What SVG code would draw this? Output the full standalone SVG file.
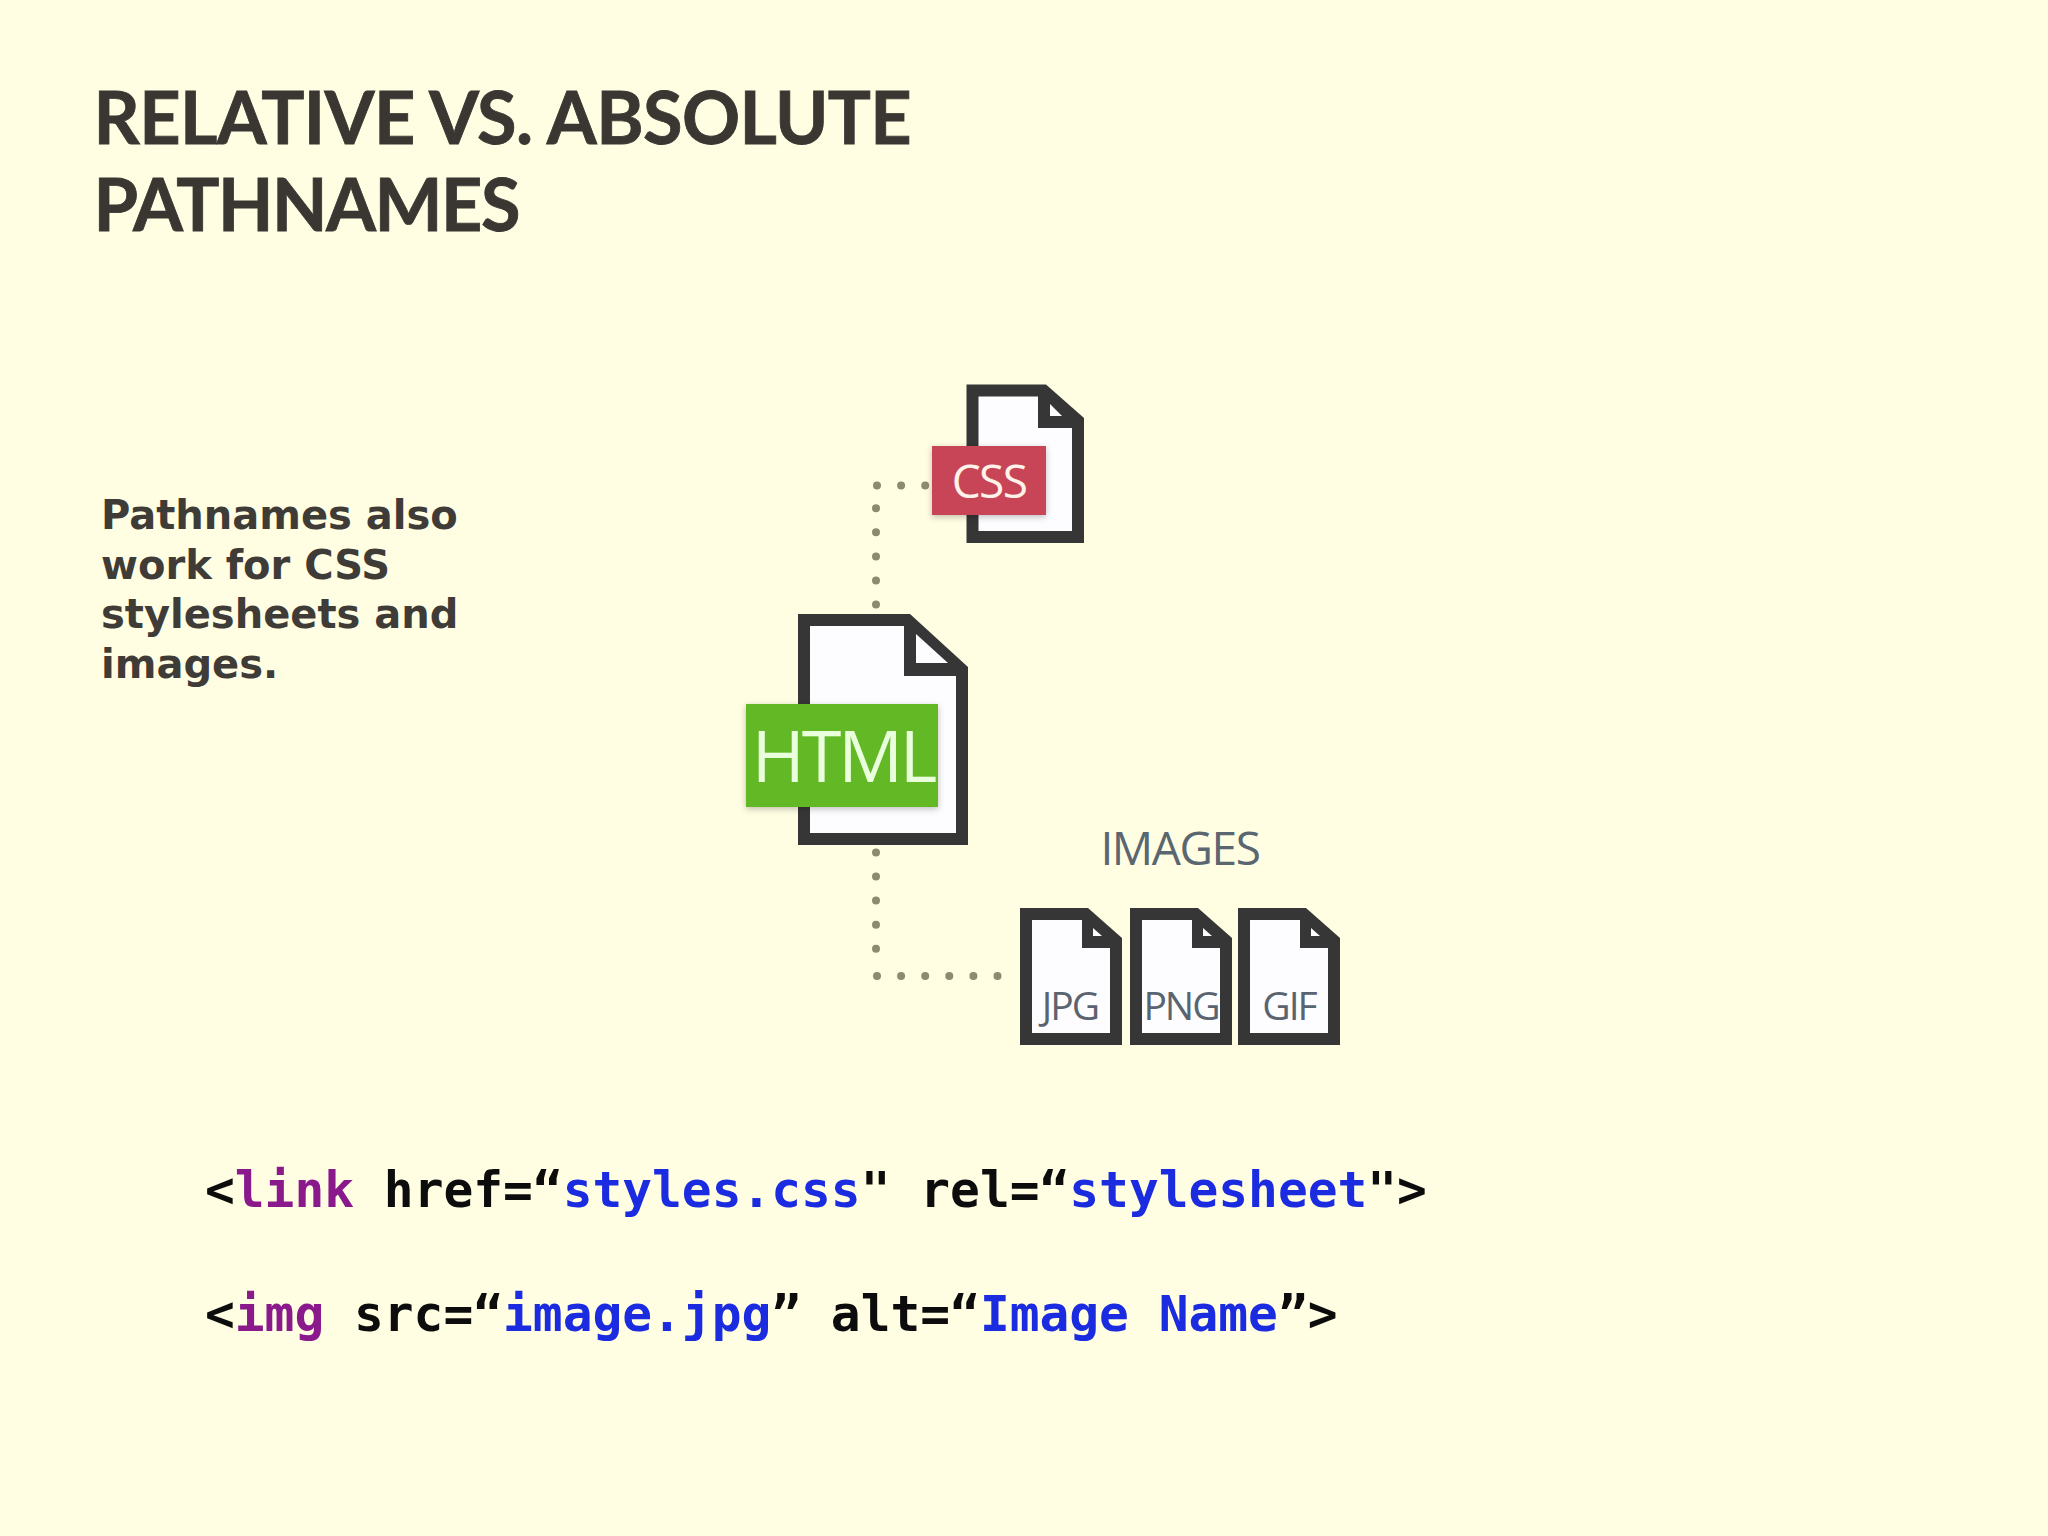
<svg xmlns="http://www.w3.org/2000/svg" width="2048" height="1536" viewBox="0 0 2048 1536">
<style>
.title{font-family:"Lato","Open Sans",sans-serif;font-weight:700;font-size:72px;fill:#3a3733;stroke:#3a3733;stroke-width:0.8px}
.para{font-family:"DejaVu Sans",sans-serif;font-weight:bold;font-size:40px;fill:#3f3c38}
.code{font-family:"DejaVu Sans Mono",monospace;font-weight:bold;font-size:49.5px;fill:#0c0c0c}
.tag{fill:#8a1a8c}.val{fill:#1a2be0}
.edge{fill:none;stroke:#8b8b72;stroke-width:8;stroke-linecap:round;stroke-dasharray:0 24.1}
.frame{fill:#363636}.page{fill:#fdfdff}
.lab{font-family:"Open Sans","Liberation Sans",sans-serif;text-anchor:middle}
.small{font-size:39px;fill:#5a6470;letter-spacing:-2px}
</style>
<defs>
<filter id="sh" x="-10%" y="-10%" width="120%" height="125%"><feDropShadow dx="0" dy="2" stdDeviation="3" flood-color="#000" flood-opacity="0.25"/></filter>
<g id="smalldoc">
<polygon class="frame" points="1020,908 1088,908 1122,938 1122,1045 1020,1045"/>
<polygon class="page" points="1032,920 1082,920 1082,948 1110,948 1110,1033 1032,1033"/>
<polygon class="page" points="1093,928 1102,936 1093,936"/>
</g>
</defs>
<rect width="2048" height="1536" fill="#fffee3"/>
<g id="heading">
<text class="title" x="93.5" y="144" letter-spacing="-0.6">RELATIVE VS. ABSOLUTE</text>
<text class="title" x="93.5" y="231" letter-spacing="-1.5">PATHNAMES</text>
</g>
<g id="description">
<text class="para" x="101" y="529">Pathnames also</text>
<text class="para" x="101" y="578.5">work for CSS</text>
<text class="para" x="101" y="628">stylesheets and</text>
<text class="para" x="101" y="678">images.</text>
</g>
<g id="connectors">
<path class="edge" d="M876 604.6V508"/>
<path class="edge" d="M877 485.5H930"/>
<path class="edge" d="M876 852.4V949"/>
<path class="edge" d="M877 976H1000"/>
</g>
<g id="node-css">
<polygon class="frame" points="966.5,384.5 1046,384.5 1084,418 1084,543 966.5,543"/>
<polygon class="page" points="978.5,396.5 1038,396.5 1038,428 1072,428 1072,531 978.5,531"/>
<polygon class="page" points="1050,404 1062,416 1050,416"/>
<rect x="932" y="446" width="114" height="69" fill="#c84458" filter="url(#sh)"/>
<text class="lab" x="989" y="498" font-size="46" letter-spacing="-1.6" fill="#fff2e8">CSS</text>
</g>
<g id="node-html">
<polygon class="frame" points="798,614 910,614 968,667 968,845 798,845"/>
<polygon class="page" points="810,626 904,626 904,676 956,676 956,833 810,833"/>
<polygon class="page" points="916,634 948,663 916,663"/>
<rect x="746" y="704" width="192" height="103" fill="#64b826" filter="url(#sh)"/>
<text class="lab" x="843" y="782" font-size="72" letter-spacing="-3.2" fill="#eaffdc">HTML</text>
</g>
<g id="node-images">
<text class="lab" x="1180" y="865" font-size="46" letter-spacing="-1.4" fill="#5a6670">IMAGES</text>
</g>
<g id="node-jpg">
<use href="#smalldoc"/>
<text class="lab small" x="1070" y="1020">JPG</text>
</g>
<g id="node-png">
<use href="#smalldoc" x="110"/>
<text class="lab small" x="1181" y="1020">PNG</text>
</g>
<g id="node-gif">
<use href="#smalldoc" x="218"/>
<text class="lab small" x="1289" y="1020">GIF</text>
</g>
<g id="code">
<text class="code" x="205" y="1206.5" xml:space="preserve">&lt;<tspan class="tag">link</tspan> href=“<tspan class="val">styles.css</tspan>" rel=“<tspan class="val">stylesheet</tspan>"&gt;</text>
<text class="code" x="205" y="1330.5" xml:space="preserve">&lt;<tspan class="tag">img</tspan> src=“<tspan class="val">image.jpg</tspan>” alt=“<tspan class="val">Image Name</tspan>”&gt;</text>
</g>
</svg>
